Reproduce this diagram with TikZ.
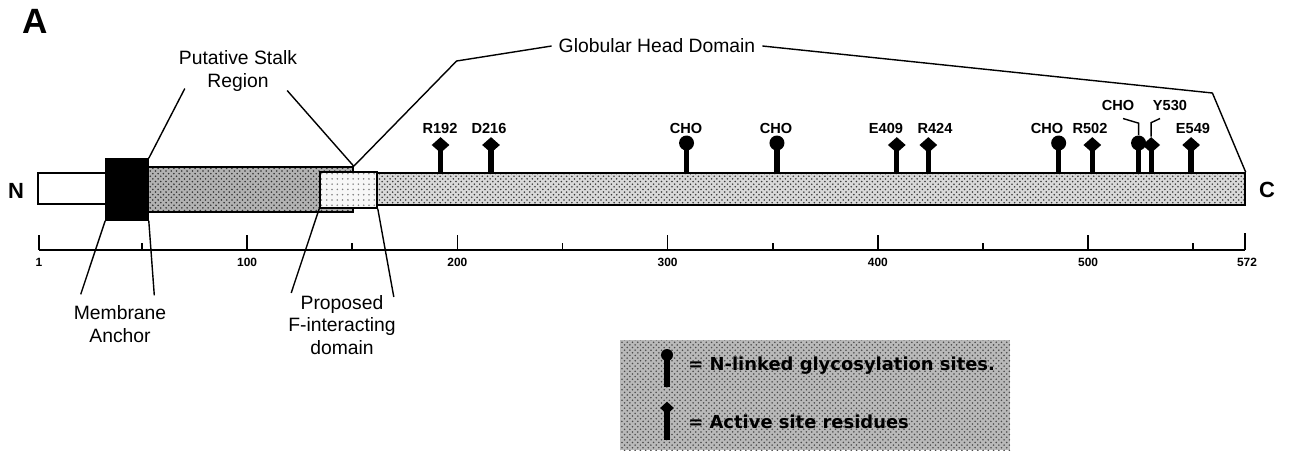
\documentclass[tikz,border=0pt]{standalone}
\usepackage{fontspec}
\setmainfont{Liberation Sans}
\newfontfamily\legfont{DejaVu Sans}
\usepackage{tikz}
\usetikzlibrary{
	calc,
	patterns,
	positioning,
	shapes.geometric
}

\begin{document}
\begin{tikzpicture}[x=0.02cm, y=-0.02cm,
		dom/.style={draw, line width=0.9pt, inner sep=0pt},
		lbl/.style={font=\fontsize{11}{13}\selectfont, align=center, inner sep=1pt},
		reslbl/.style={font=\fontsize{8.3}{9}\selectfont\bfseries, inner sep=0pt},
		axlbl/.style={font=\fontsize{6.8}{8}\selectfont\bfseries, inner sep=0pt},
		termlbl/.style={font=\fontsize{12.5}{14}\selectfont\bfseries, inner sep=0pt},
		legtxt/.style={font=\legfont\bfseries\fontsize{10.2}{12}\selectfont, inner sep=0pt, anchor=west},
		actdot/.style={diamond, fill, inner sep=0pt, minimum width=0.36cm, minimum height=0.32cm},
		glydot/.style={circle, fill, inner sep=0pt, minimum size=0.30cm},
		stem/.style={line width=3pt},
		callout/.style={line width=0.8pt}]
	\useasboundingbox (0,0) rectangle (1291,453);
	\node[font=\fontsize{20}{22}\selectfont\bfseries] (panel) at (35,21) {A};

	% domains of the protein
	\node[dom, fill=white, minimum width=1.36cm, minimum height=0.62cm] (tail) at (72,188.5) {};
	\node[dom, fill=black, minimum width=0.84cm, minimum height=1.22cm] (anchor) at (127,189.5) {};
	\node[dom, preaction={fill=gray!60}, pattern=crosshatch dots, pattern color=gray!40!black,
		minimum width=4.10cm, minimum height=0.90cm] (stalk) at (250.5,189.5) {};
	\node[dom, preaction={fill=gray!30}, pattern=crosshatch dots, pattern color=gray!45!black,
		minimum width=17.36cm, minimum height=0.64cm] (head) at (811,189) {};
	\node[dom, preaction={fill=gray!6}, pattern=dots, pattern color=gray,
		minimum width=1.14cm, minimum height=0.72cm] (fbox) at (348.5,190) {};
	\node[termlbl] (nterm) at (16,191) {N};
	\node[termlbl] (cterm) at (1267,190) {C};

	% callouts
	\node[lbl] (stalklbl) at (238,71) {Putative Stalk\\Region};
	\draw[callout] ([shift={(8,-5)}]stalklbl.south west) -- (anchor.north east);
	\draw[callout] ([shift={(-12,-3)}]stalklbl.south east) -- (stalk.north east);
	\node[lbl] (globlbl) at (657,46) {Globular Head Domain};
	\draw[callout] ([xshift=-0.1cm]globlbl.west) -- ++(-95,15) -- (stalk.north east);
	\draw[callout] ([xshift=0.1cm]globlbl.east) -- ++(450,47) -- (head.north east);
	\node[lbl] (memlbl) at (120,324) {Membrane\\Anchor};
	\draw[callout] ([shift={(9,-9)}]memlbl.north west) -- (anchor.south west);
	\draw[callout] ([shift={(-14,-8)}]memlbl.north east) -- (anchor.south east);
	\node[lbl] (flbl) at (342,325) {Proposed\\F-interacting\\domain};
	\draw[callout] ([shift={(5,0)}]flbl.north west) -- (fbox.south west);
	\draw[callout] ([shift={(-4,4)}]flbl.north east) -- (fbox.south east);

	% residue scale
	\draw[line width=0.9pt] (39,250) -- (1245,250);
	\foreach \r in {1,100,200,300,400,500} {
		\draw[line width=0.9pt] (\r*2.1024+36.9,235) -- (\r*2.1024+36.9,250);
		\node[axlbl] (t\r) at (\r*2.1024+36.9,262) {\r};
	}
	\foreach \r in {50,150,...,550}
		\draw[line width=0.9pt] (\r*2.1024+36.9,243) -- (\r*2.1024+36.9,250);
	\draw[line width=0.9pt] (1245,233) -- (1245,250);
	\node[axlbl] (t572) at (1247,262) {572};

	% active site residues
	\foreach \r/\t/\lx in {192/R192/440, 216/D216/489, 409/E409/886, 424/R424/935, 502/R502/1090, 549/E549/1193} {
		\node[actdot] (a\r) at (\r*2.1024+36.9,145) {};
		\draw[stem] (a\r.center) -- (a\r.center |- head.north);
		\node[reslbl] (l\r) at (\lx,128) {\t};
	}
	\node[actdot] (a530) at (530*2.1024+36.9,145) {};
	\draw[stem] (a530.center) -- (a530.center |- head.north);
	\node[reslbl] (l530) at (1170,105) {Y530};
	\draw[callout] ([shift={(-10,8)}]l530.south) -- ($(a530.north)+(0,-14)$) -- (a530.north);

	% glycosylation sites
	\foreach \r/\lx in {309/686, 352/776, 486/1047} {
		\node[glydot] (g\r) at (\r*2.1024+36.9,143) {};
		\draw[stem] (g\r.center) -- (g\r.center |- head.north);
		\node[reslbl] (lg\r) at (\lx,128) {CHO};
	}
	\node[glydot] (g524) at (524*2.1024+36.9,143) {};
	\draw[stem] (g524.center) -- (g524.center |- head.north);
	\node[reslbl] (lg524) at (1118,105) {CHO};
	\draw[callout] ([shift={(5,8)}]lg524.south) -- ($(g524.north)+(0,-12)$) -- (g524.north);

	% key
	\path[preaction={fill=gray!55}, pattern=crosshatch dots, pattern color=gray!60!black]
		(620,340) rectangle (1010,450);
	\node[glydot, minimum size=0.24cm] (keyg) at (667,355) {};
	\draw[stem] (keyg.center) -- ++(0,32);
	\node[actdot, minimum width=0.28cm, minimum height=0.26cm] (keya) at (667,408) {};
	\draw[stem] (keya.center) -- ++(0,32);
	\node[legtxt] (keygtxt) at (688,366) {= N-linked glycosylation sites.};
	\node[legtxt] (keyatxt) at (688,422) {= Active site residues};
\end{tikzpicture}
\end{document}
